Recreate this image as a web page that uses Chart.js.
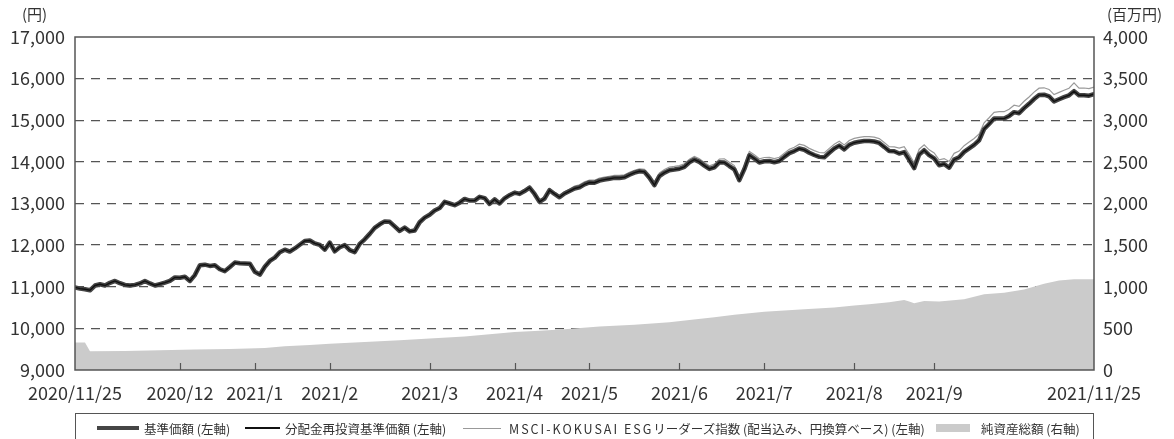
<!DOCTYPE html>
<html><head><meta charset="utf-8">
<title>基準価額・純資産の推移</title>
<script src="https://cdn.jsdelivr.net/npm/chart.js"></script>
<style>
  body { margin: 0; background: #fff; font-family: 'Noto Sans CJK JP', 'Noto Sans', sans-serif; color: #333; }
  .wrap { position: relative; width: 1174px; height: 439px; overflow: hidden; }
  .unit { position: absolute; top: 3px; font-size: 15px; }
  .legend { position: absolute; left: 75px; top: 413px; width: 1019px; height: 30px; border: 1px solid #555; box-sizing: border-box; font-size: 12.5px; }
  .item { position: absolute; top: 0; height: 28px; display: flex; align-items: center; white-space: nowrap; }
  .sw { display: inline-block; }
  .latin { letter-spacing: 2px; }
</style>
</head>
<body>
<div class="wrap">
  <canvas id="chart" width="1174" height="439"></canvas>
  <span class="unit" style="left:22px">(円)</span>
  <span class="unit" style="left:1107px">(百万円)</span>
  <div class="legend">
    <div class="item" style="left:21px"><span class="sw" style="width:42px;height:4.5px;background:#454545;margin-right:5px"></span>基準価額 (左軸)</div>
    <div class="item" style="left:169px"><span class="sw" style="width:35px;height:1.6px;background:#111;margin-right:5px"></span>分配金再投資基準価額 (左軸)</div>
    <div class="item" style="left:387px"><span class="sw" style="width:38px;height:1px;background:#999;margin-right:8px"></span><span class="latin">MSCI-KOKUSAI ESG</span>リーダーズ指数 (配当込み、円換算ベース) (左軸)</div>
    <div class="item" style="left:860px"><span class="sw" style="width:34px;height:8px;background:#cbcbcb;margin-right:11px"></span>純資産総額 (右軸)</div>
  </div>
</div>
<script>
// x axis: trading-day index, 0 = 2020/11/25, 204 = 2021/11/25
const tickDays = [0, 21, 36, 51, 71, 88, 103, 121, 138, 156, 172, 204];
const tickLabels = ['2020/11/25', '2020/12', '2021/1', '2021/2', '2021/3', '2021/4', '2021/5', '2021/6', '2021/7', '2021/8', '2021/9', '2021/11/25'];

// 基準価額 (円)
const nav = [
  10985, 10955, 10940, 10915, 11030, 11060, 11030, 11095, 11140, 11085,
  11045, 11030, 11045, 11080, 11140, 11080, 11030, 11065, 11100, 11140,
  11225, 11215, 11240, 11140, 11280, 11515, 11530, 11500, 11515, 11420,
  11375, 11475, 11580, 11565, 11560, 11555, 11360, 11290, 11480, 11620,
  11700, 11830, 11890, 11845, 11920, 12010, 12100, 12110, 12040, 12005,
  11890, 12060, 11850, 11950, 12000, 11880, 11830, 12030, 12140, 12270,
  12415, 12500, 12570, 12560, 12450, 12340, 12420, 12330, 12350, 12550,
  12660, 12730, 12830, 12890, 13040, 13000, 12960, 13020, 13110, 13070,
  13070, 13160, 13130, 12990, 13100, 13000, 13125, 13200, 13260, 13230,
  13300, 13380, 13230, 13040, 13120, 13320, 13230, 13150, 13240, 13300,
  13360, 13390, 13460, 13505, 13500, 13550, 13575, 13595, 13615, 13615,
  13630, 13690, 13740, 13775, 13760, 13620, 13440, 13660, 13740, 13800,
  13815, 13835, 13880, 13990, 14055, 14000, 13910, 13830, 13870, 13990,
  13985, 13900, 13820, 13560, 13825, 14160, 14080, 13985, 14015, 14020,
  13990, 14020, 14120, 14210, 14260, 14320, 14290, 14220, 14165, 14120,
  14110, 14220, 14320, 14390, 14300, 14410, 14460, 14485, 14500, 14500,
  14490, 14455, 14360, 14260, 14255, 14200, 14235, 14050, 13850, 14175,
  14280, 14160, 14085, 13920, 13950, 13860, 14055, 14110, 14240, 14325,
  14410, 14520, 14790, 14910, 15040, 15040, 15040, 15100, 15195, 15170,
  15290, 15395, 15510, 15605, 15615, 15575, 15450, 15505, 15555, 15600,
  15700, 15600, 15600, 15590, 15630
];

// 分配金再投資基準価額 (no distribution paid, so it coincides with nav)
const navReinvested = nav;

// MSCI-KOKUSAI ESG リーダーズ指数
const esgIndex = [
  10985, 10955, 10940, 10915, 11030, 11060, 11030, 11095, 11140, 11085,
  11045, 11030, 11045, 11080, 11140, 11080, 11030, 11065, 11100, 11140,
  11225, 11215, 11240, 11140, 11280, 11515, 11530, 11500, 11515, 11420,
  11375, 11475, 11580, 11565, 11560, 11555, 11360, 11290, 11480, 11620,
  11700, 11830, 11890, 11845, 11920, 12010, 12100, 12110, 12040, 12005,
  11890, 12060, 11850, 11950, 12000, 11880, 11830, 12030, 12140, 12270,
  12415, 12500, 12570, 12560, 12450, 12350, 12430, 12340, 12360, 12560,
  12670, 12740, 12840, 12900, 13050, 13025, 12985, 13045, 13135, 13095,
  13095, 13185, 13155, 13015, 13125, 13040, 13165, 13240, 13300, 13270,
  13340, 13420, 13270, 13080, 13160, 13360, 13270, 13190, 13280, 13340,
  13420, 13450, 13520, 13565, 13560, 13610, 13635, 13655, 13675, 13675,
  13690, 13750, 13800, 13835, 13820, 13695, 13515, 13735, 13815, 13875,
  13890, 13910, 13955, 14065, 14130, 14075, 13985, 13905, 13945, 14065,
  14075, 13990, 13910, 13650, 13915, 14250, 14170, 14075, 14105, 14110,
  14080, 14110, 14210, 14300, 14350, 14425, 14395, 14325, 14270, 14225,
  14215, 14325, 14425, 14495, 14405, 14515, 14565, 14590, 14605, 14605,
  14595, 14560, 14465, 14365, 14360, 14330, 14365, 14180, 13980, 14305,
  14410, 14290, 14215, 14050, 14080, 14010, 14205, 14260, 14390, 14475,
  14560, 14670, 14940, 15060, 15190, 15205, 15205, 15265, 15360, 15335,
  15455, 15560, 15675, 15770, 15780, 15740, 15615, 15670, 15720, 15770,
  15900, 15770, 15775, 15760, 15795
];

// 純資産総額 (百万円)
const assetDays = [0, 2, 3, 10, 17, 24, 31, 38, 42, 47, 51, 58, 65, 71, 78, 83, 88, 93, 98, 105,
  112, 119, 123, 128, 132, 138, 146, 152, 156, 159, 163, 166, 167, 168, 170, 173, 178, 182, 186, 190,
  194, 197, 200, 204];
const assets = [330, 330, 225, 229, 236, 245, 252, 265, 285, 300, 316, 336, 356, 379, 403, 430, 455, 470, 490, 522,
  545, 573, 601, 635, 664, 700, 731, 751, 775, 790, 815, 840, 822, 802, 830, 822, 850, 909, 929, 968,
  1036, 1075, 1091, 1091];

const FONT = "'Noto Sans CJK JP', 'Noto Sans', sans-serif";
const xy = (vals, xs) => vals.map((v, i) => ({ x: xs ? xs[i] : i, y: v }));

// box around the plot + small inward month ticks on the bottom axis
const frame = {
  id: 'frame',
  afterDatasetsDraw(chart) {
    const { ctx, chartArea: a, scales: { x } } = chart;
    ctx.save();
    ctx.strokeStyle = '#555';
    ctx.lineWidth = 1.5;
    ctx.strokeRect(a.left, a.top, a.right - a.left, a.bottom - a.top);
    ctx.lineWidth = 1.2;
    tickDays.slice(1, -1).forEach(d => {
      const px = Math.round(x.getPixelForValue(d)) + 0.5;
      ctx.beginPath();
      ctx.moveTo(px, a.bottom);
      ctx.lineTo(px, a.bottom - 7);
      ctx.stroke();
    });
    ctx.restore();
  }
};

new Chart(document.getElementById('chart'), {
  type: 'line',
  data: {
    datasets: [
      { label: '分配金再投資基準価額 (左軸)', data: xy(navReinvested), borderColor: '#111', borderWidth: 1.4, yAxisID: 'y' },
      { label: '基準価額 (左軸)', data: xy(nav), borderColor: '#454545', borderWidth: 4.5, borderJoinStyle: 'round', borderCapStyle: 'round', yAxisID: 'y' },
      { label: 'MSCI-KOKUSAI ESGリーダーズ指数 (配当込み、円換算ベース) (左軸)', data: xy(esgIndex), borderColor: '#9a9a9a', borderWidth: 1.2, yAxisID: 'y' },
      { label: '純資産総額 (右軸)', data: xy(assets, assetDays), yAxisID: 'y1', fill: 'origin', backgroundColor: '#cbcbcb', borderWidth: 0 }
    ]
  },
  options: {
    responsive: false,
    animation: false,
    layout: { padding: { top: 37, left: 0, right: 0, bottom: 0 } },
    elements: { point: { radius: 0 }, line: { tension: 0 } },
    plugins: { legend: { display: false }, tooltip: { enabled: false } },
    scales: {
      x: {
        type: 'linear', min: 0, max: 204,
        afterBuildTicks: s => { s.ticks = tickDays.map(v => ({ value: v })); },
        afterFit: s => { s.height = 69; },
        grid: { display: false },
        border: { display: false },
        ticks: {
          autoSkip: false, maxRotation: 0, minRotation: 0, padding: 4,
          color: '#333', font: { size: 18, family: FONT },
          callback: v => tickLabels[tickDays.indexOf(v)]
        }
      },
      y: {
        position: 'left', min: 9000, max: 17000,
        afterFit: s => { s.width = 75; },
        ticks: { stepSize: 1000, padding: 10, color: '#333', font: { size: 18, family: FONT }, callback: v => v.toLocaleString('en-US') },
        grid: {
          drawTicks: false, lineWidth: 1.3,
          color: c => (c.tick.value === 9000 || c.tick.value === 17000) ? 'rgba(0,0,0,0)' : '#555'
        },
        border: { display: false, dash: [9, 7] }
      },
      y1: {
        position: 'right', min: 0, max: 4000,
        afterFit: s => { s.width = 80; },
        ticks: { stepSize: 500, padding: 9, color: '#333', font: { size: 18, family: FONT }, callback: v => v.toLocaleString('en-US') },
        grid: { display: false, drawTicks: false },
        border: { display: false }
      }
    }
  },
  plugins: [frame]
});
</script>
</body></html>
